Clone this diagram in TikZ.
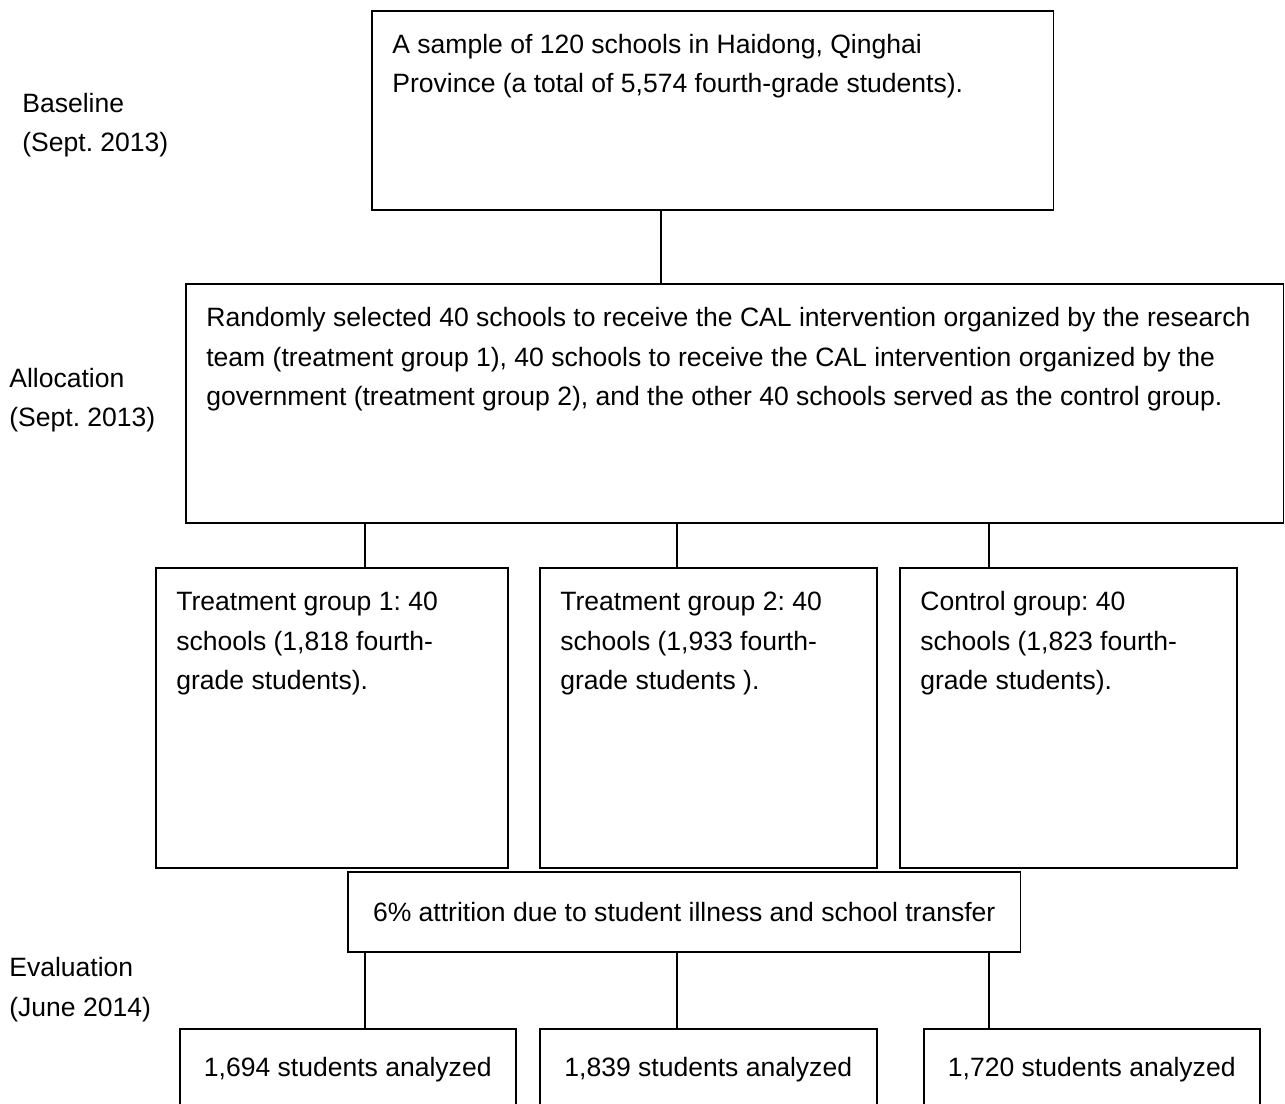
\documentclass[tikz,border=0pt]{standalone}
\usepackage{fontspec}
\setmainfont{Liberation Sans}
\usepackage{tikz}
\frenchspacing

\begin{document}
\begin{tikzpicture}[x=0.02cm, y=-0.02cm]
\tikzset{box/.style = {draw, line width=0.9pt, inner sep=0, anchor=north west}}
\tikzset{txt/.style = {inner sep=0, align=left, anchor=base west, font=\fontsize{15.1pt}{22.7pt}\selectfont}}
\tikzset{intxt/.style = {txt, xshift=0.42cm, yshift=-0.86cm}}
\tikzset{edge/.style = {line width=0.9pt}}
\useasboundingbox (0,0) rectangle (1285,1104);
\clip (0,0) rectangle (1285,1104);
% boxes
\node[box, minimum width=13.64cm, minimum height=3.98cm] (sample) at (371,10) {};
\node[box, minimum width=21.96cm, minimum height=4.78cm] (alloc) at (185,283) {};
\node[box, minimum width=7.04cm, minimum height=6cm] (tg1) at (155,567) {};
\node[box, minimum width=6.74cm, minimum height=6cm] (tg2) at (539,567) {};
\node[box, minimum width=6.74cm, minimum height=6cm] (ctrl) at (899,567) {};
\node[box, minimum width=13.46cm, minimum height=1.6cm, font=\fontsize{15.1pt}{22.7pt}\selectfont] (attr) at (347,871)
  {6\% attrition due to student illness and school transfer};
\node[box, minimum width=6.72cm, minimum height=2.2cm] (an1) at (179,1028) {};
\node[box, minimum width=6.74cm, minimum height=2.2cm] (an2) at (539,1028) {};
\node[box, minimum width=6.72cm, minimum height=2.2cm] (an3) at (923,1028) {};

% texts (base = last line)
\node[intxt, yshift=-0.8cm] (sampletxt) at (sample.north west) {A sample of 120 schools in Haidong, Qinghai\\Province (a total of 5,574 fourth-grade students).};
\node[intxt, yshift=-1.6cm] (alloctxt) at (alloc.north west) {Randomly selected 40 schools to receive the CAL intervention organized by the research\\team (treatment group 1), 40 schools to receive the CAL intervention organized by the\\government (treatment group 2), and the other 40 schools served as the control group.};
\node[intxt, yshift=-1.6cm] (tg1txt) at (tg1.north west) {Treatment group 1: 40\\schools (1,818 fourth-\\grade students).};
\node[intxt, yshift=-1.6cm] (tg2txt) at (tg2.north west) {Treatment group 2: 40\\schools (1,933 fourth-\\grade students ).};
\node[intxt, yshift=-1.6cm] (ctrltxt) at (ctrl.north west) {Control group: 40\\schools (1,823 fourth-\\grade students).};
\node[txt, anchor=base] (an1txt) at ([yshift=-0.98cm]an1.north) {1,694 students analyzed};
\node[txt, anchor=base] (an2txt) at ([yshift=-0.98cm]an2.north) {1,839 students analyzed};
\node[txt, anchor=base] (an3txt) at ([yshift=-0.98cm]an3.north) {1,720 students analyzed};

% stage labels
\node[txt] (baseline) at (22,152) {Baseline\\(Sept. 2013)};
\node[txt] (allocation) at (9,427) {Allocation\\(Sept. 2013)};
\node[txt] (evaluation) at (9,1016) {Evaluation\\(June 2014)};

% connectors
\coordinate (c0) at (661,0);
\coordinate (c1) at (365,0);
\coordinate (c2) at (677,0);
\coordinate (c3) at (989,0);
\draw[edge] (sample.south -| c0) -- (alloc.north -| c0);
\draw[edge] (alloc.south -| c1) -- (tg1.north -| c1);
\draw[edge] (alloc.south -| c2) -- (tg2.north -| c2);
\draw[edge] (alloc.south -| c3) -- (ctrl.north -| c3);
\draw[edge] (attr.south -| c1) -- (an1.north -| c1);
\draw[edge] (attr.south -| c2) -- (an2.north -| c2);
\draw[edge] (attr.south -| c3) -- (an3.north -| c3);

\end{tikzpicture}
\end{document}
